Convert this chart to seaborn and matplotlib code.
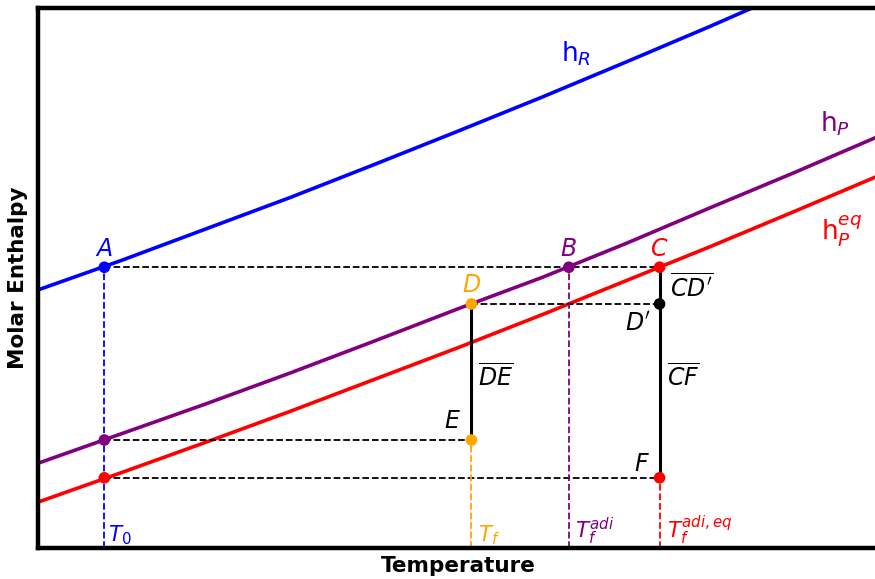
import numpy as np
import pandas as pd
import seaborn as sns
import matplotlib.pyplot as plt

# temperature grid (arbitrary units) and enthalpy curves
temp = [0, 1, 2, 3, 4, 5, 6, 7, 8, 9, 10]
h_reactants = [4.78, 5.33, 5.91, 6.49, 7.10, 7.72, 8.35, 9.00, 9.66, 10.34, 11.04]
h_products = [1.57, 2.12, 2.67, 3.24, 3.83, 4.43, 5.01, 5.64, 6.30, 6.95, 7.62]
h_products_eq = [0.85, 1.40, 1.96, 2.53, 3.12, 3.71, 4.32, 4.95, 5.58, 6.23, 6.89]

# characteristic temperatures
T0 = 0.79
Tf = 5.16
Tf_adi = 6.32
Tf_adi_eq = 7.40

# enthalpy levels
h_A = 5.20
h_D = 4.52
h_E = 2.00
h_F = 1.30

sns.set_style("white")
plt.rcParams["text.color"] = "black"
plt.rcParams["axes.labelcolor"] = "black"

fig = plt.figure(figsize=(8.75, 5.79), dpi=100)
ax = fig.add_axes([0.0434, 0.0535, 0.9600, 0.9326])

curves = pd.DataFrame({"T": temp, "hR": h_reactants, "hP": h_products, "hPeq": h_products_eq})
sns.lineplot(data=curves, x="T", y="hR", color="blue", lw=2.6, ax=ax)
sns.lineplot(data=curves, x="T", y="hP", color="purple", lw=2.6, ax=ax)
sns.lineplot(data=curves, x="T", y="hPeq", color="red", lw=2.6, ax=ax)

# horizontal construction lines
ax.plot([T0, Tf_adi_eq], [h_A, h_A], "k--", lw=1.3)
ax.plot([Tf, Tf_adi_eq], [h_D, h_D], "k--", lw=1.3)
ax.plot([T0, Tf], [h_E, h_E], "k--", lw=1.3)
ax.plot([T0, Tf_adi_eq], [h_F, h_F], "k--", lw=1.3)

# vertical temperature markers
ax.plot([T0, T0], [0, h_A], "--", color="blue", lw=1.3)
ax.plot([Tf, Tf], [0, h_E], "--", color="orange", lw=1.3)
ax.plot([Tf_adi, Tf_adi], [0, h_A], "--", color="purple", lw=1.3)
ax.plot([Tf_adi_eq, Tf_adi_eq], [0, h_F], "--", color="red", lw=1.3)

# solid segments DE and CF
ax.plot([Tf, Tf], [h_E, h_D], color="black", lw=2.2)
ax.plot([Tf_adi_eq, Tf_adi_eq], [h_F, h_A], color="black", lw=2.2)

pts = pd.DataFrame({
    "T": [T0, Tf_adi, Tf_adi_eq, Tf, Tf, Tf_adi_eq, Tf_adi_eq, T0, T0],
    "h": [h_A, h_A, h_A, h_D, h_E, h_D, h_F, h_E, h_F],
    "c": ["blue", "purple", "red", "orange", "orange", "black", "red", "purple", "red"],
})
sns.scatterplot(data=pts, x="T", y="h", hue="c", palette={c: c for c in pts["c"].unique()},
                s=70, edgecolor="none", legend=False, zorder=5, ax=ax)

fs = 17
ax.text(T0, h_A + 0.12, "$A$", color="blue", fontsize=fs, ha="center", va="bottom")
ax.text(Tf_adi, h_A + 0.12, "$B$", color="purple", fontsize=fs, ha="center", va="bottom")
ax.text(Tf_adi_eq, h_A + 0.12, "$C$", color="red", fontsize=fs, ha="center", va="bottom")
ax.text(Tf, h_D + 0.12, "$D$", color="orange", fontsize=fs, ha="center", va="bottom")
ax.text(7.14, 4.15, "$D'$", color="black", fontsize=fs, ha="center", va="center")
ax.text(4.94, 2.35, "$E$", color="black", fontsize=fs, ha="center", va="center")
ax.text(7.19, 1.55, "$F$", color="black", fontsize=fs, ha="center", va="center")

ax.text(7.52, 4.80, r"$\overline{CD'}$", color="black", fontsize=fs, ha="left", va="center")
ax.text(5.24, 3.16, r"$\overline{DE}$", color="black", fontsize=fs, ha="left", va="center")
ax.text(7.49, 3.16, r"$\overline{CF}$", color="black", fontsize=fs, ha="left", va="center")

ax.text(6.40, 9.15, "h$_R$", color="blue", fontsize=19, ha="center", va="center")
ax.text(9.49, 7.85, "h$_P$", color="purple", fontsize=19, ha="center", va="center")
ax.text(9.57, 5.87, "h$_P^{eq}$", color="red", fontsize=19, ha="center", va="center")

ax.text(0.83, 0.01, "$T_0$", color="blue", fontsize=15.5, ha="left", va="bottom")
ax.text(5.24, 0.01, "$T_f$", color="orange", fontsize=15.5, ha="left", va="bottom")
ax.text(6.39, 0.01, "$T_f^{adi}$", color="purple", fontsize=15.5, ha="left", va="bottom")
ax.text(7.49, 0.01, "$T_f^{adi,eq}$", color="red", fontsize=15.5, ha="left", va="bottom")

ax.set_xlim(0, 10)
ax.set_ylim(0, 10)
ax.set_xticks([])
ax.set_yticks([])
ax.set_xlabel("Temperature", fontsize=15.5, fontweight="bold", labelpad=6)
ax.set_ylabel("Molar Enthalpy", fontsize=15.5, fontweight="bold", labelpad=7)
for s in ax.spines.values():
    s.set_linewidth(3.2)
    s.set_color("black")

fig.savefig("out.png", dpi=100)
